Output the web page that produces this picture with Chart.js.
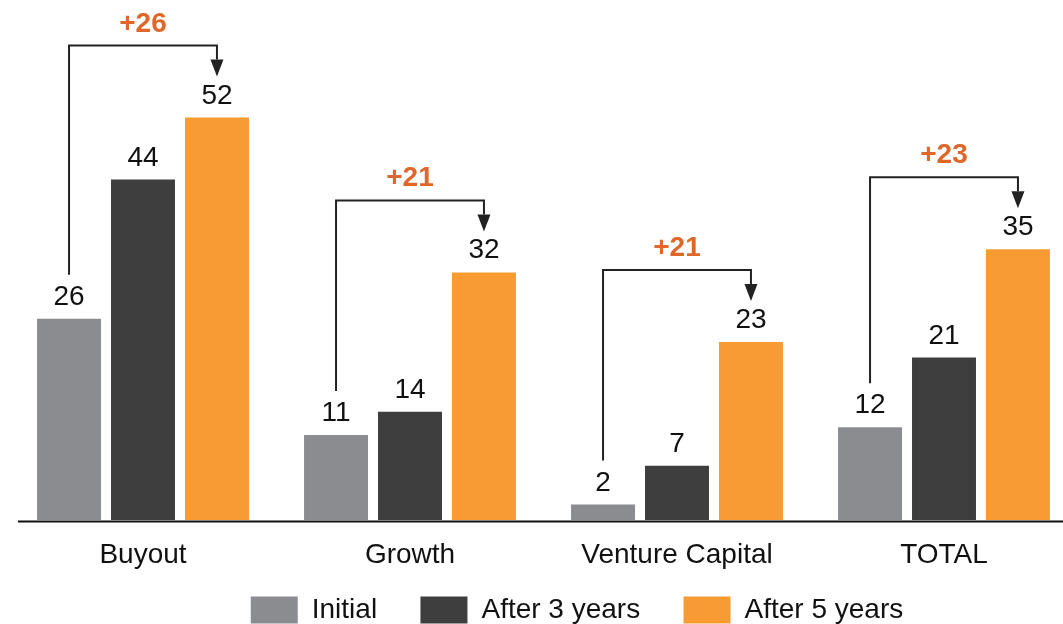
<!DOCTYPE html>
<html>
<head>
<meta charset="utf-8">
<script src="https://cdn.jsdelivr.net/npm/chart.js@4.4.1/dist/chart.umd.min.js"></script>
<style>
    html, body { margin: 0; padding: 0; overflow: hidden; background: #fff; }
    canvas { display: block; }
</style>
</head>
<body>
<canvas id="returnsChart" width="1154" height="634"></canvas>
<script>
// Chart values
const categories = ['Buyout', 'Growth', 'Venture Capital', 'TOTAL'];
const initialValues = [26, 11, 2, 12];
const after3Values = [44, 14, 7, 21];
const after5Values = [52, 32, 23, 35];
const seriesNames = ['Initial', 'After 3 years', 'After 5 years'];

const FONT = '"Liberation Sans", Arial, Helvetica, sans-serif';
const colors = ['#8b8c90', '#3e3e3e', '#f89b33'];

// Draws value labels, brackets and the deltas above each group
const annotationPlugin = {
    id: 'annotations',
    afterDatasetsDraw(chart) {
        const ctx = chart.ctx;
        const area = chart.chartArea;
        ctx.save();

        // baseline
        ctx.strokeStyle = '#111';
        ctx.lineWidth = 2;
        ctx.beginPath();
        ctx.moveTo(18, area.bottom + 1.5);
        ctx.lineTo(chart.width, area.bottom + 1.5);
        ctx.stroke();

        // value labels
        ctx.font = '28px ' + FONT;
        ctx.fillStyle = '#111';
        ctx.textAlign = 'center';
        ctx.textBaseline = 'alphabetic';
        chart.data.datasets.forEach((ds, d) => {
            chart.getDatasetMeta(d).data.forEach((bar, i) => {
                ctx.fillText(String(ds.data[i]), bar.x, bar.y - 14);
            });
        });

        // brackets with arrows
        const first = chart.getDatasetMeta(0).data;
        const last = chart.getDatasetMeta(2).data;
        categories.forEach((c, i) => {
            const x0 = first[i].x;
            const y0 = first[i].y - 44;
            const x1 = last[i].x;
            const tip = last[i].y - 41;
            const top = tip - 31;
            const head = 17;

            ctx.strokeStyle = '#222';
            ctx.lineWidth = 2;
            ctx.beginPath();
            ctx.moveTo(x0, y0);
            ctx.lineTo(x0, top);
            ctx.lineTo(x1, top);
            ctx.lineTo(x1, tip - head);
            ctx.stroke();

            ctx.fillStyle = '#222';
            ctx.beginPath();
            ctx.moveTo(x1 - 6.5, tip - head);
            ctx.lineTo(x1 + 6.5, tip - head);
            ctx.lineTo(x1, tip);
            ctx.closePath();
            ctx.fill();

            const delta = after5Values[i] - initialValues[i];
            ctx.font = 'bold 28px ' + FONT;
            ctx.fillStyle = '#e0672a';
            ctx.fillText('+' + delta, (x0 + x1) / 2, top - 14);
            ctx.font = '28px ' + FONT;
        });

        ctx.restore();
    }
};

const ctx = document.getElementById('returnsChart').getContext('2d');

const data = {
    labels: categories,
    datasets: [initialValues, after3Values, after5Values].map((values, k) => ({
        label: seriesNames[k],
        data: values,
        backgroundColor: colors[k],
        borderWidth: 0,
        categoryPercentage: 0.831,
        barPercentage: 0.865
    }))
};

const config = {
    type: 'bar',
    data: data,
    options: {
        responsive: false,
        animation: false,
        devicePixelRatio: 1,
        layout: { padding: 0 },
        plugins: {
            tooltip: { enabled: false },
            legend: {
                position: 'bottom',
                labels: {
                    boxWidth: 47,
                    boxHeight: 27,
                    padding: 20,
                    color: '#111',
                    font: { family: FONT, size: 28 },
                    // wider gaps between items than the vertical padding allows
                    generateLabels: (chart) => {
                        const items = Chart.defaults.plugins.legend.labels.generateLabels(chart);
                        items.forEach((item, k) => {
                            if (k < items.length - 1) item.text = item.text + '   ';
                        });
                        return items;
                    }
                }
            }
        },
        scales: {
            x: {
                grid: { display: false },
                border: { display: false },
                ticks: {
                    color: '#111',
                    padding: 10,
                    font: { family: FONT, size: 28 }
                },
                afterFit: (scale) => { scale.height = 56; }
            },
            y: {
                position: 'left',
                min: 0,
                max: 67.2,
                grid: { display: false },
                border: { display: false },
                ticks: { display: false },
                afterFit: (scale) => { scale.width = 9.5; }
            },
            yRight: {
                position: 'right',
                min: 0,
                max: 67.2,
                grid: { display: false },
                border: { display: false },
                ticks: { display: false },
                afterFit: (scale) => { scale.width = 76.5; }
            }
        }
    },
    plugins: [annotationPlugin]
};

const returnsChart = new Chart(ctx, config);
</script>
</body>
</html>
